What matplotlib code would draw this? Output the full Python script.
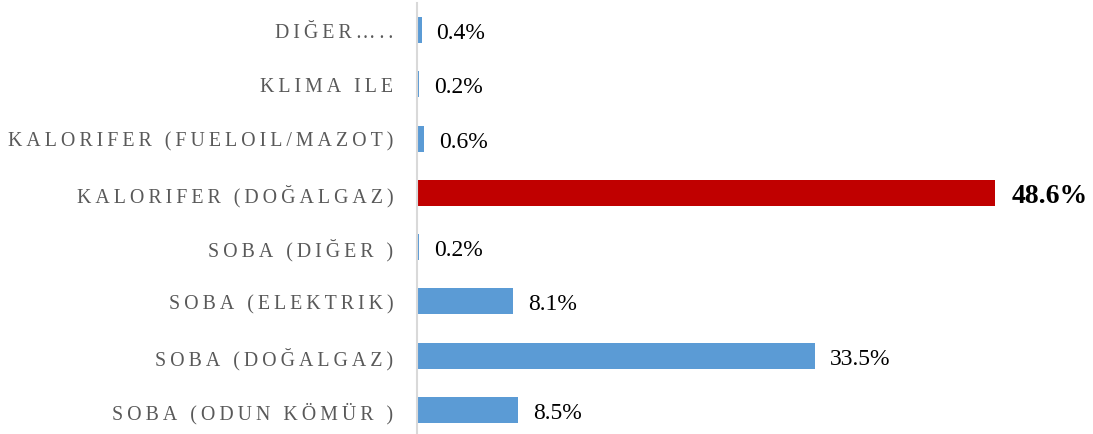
import matplotlib
matplotlib.use('Agg')
import matplotlib.pyplot as plt

# data, bottom to top
categories = ['SOBA (ODUN KÖMÜR )', 'SOBA (DOĞALGAZ)', 'SOBA (ELEKTRIK)', 'SOBA (DIĞER )',
              'KALORIFER (DOĞALGAZ)', 'KALORIFER (FUELOIL/MAZOT)', 'KLIMA ILE', 'DIĞER…..']
values = [8.5, 33.5, 8.1, 0.2, 48.6, 0.6, 0.2, 0.4]
highlight = 'KALORIFER (DOĞALGAZ)'

blue = '#5B9BD5'
red = '#C00000'

plt.rcParams['font.family'] = ['Liberation Serif', 'DejaVu Serif']

def spaced(s):
    # fake the wide letter spacing of the original labels with thin spaces
    return '\u2009'.join(s)

fig = plt.figure(figsize=(10.93, 4.35), dpi=100)
ax = fig.add_axes([417 / 1093, -3 / 435, 676 / 1093, 434 / 435])

y = list(range(len(categories)))
colors = [red if c == highlight else blue for c in categories]
ax.barh(y, values, height=0.48, color=colors)

for yi, v, c in zip(y, values, categories):
    if c == highlight:
        ax.annotate('{:.1f}%'.format(v), (v, yi), xytext=(12, 0), textcoords='offset points',
                    va='center_baseline', ha='left', fontsize=20, fontweight='bold', color='black')
    else:
        ax.annotate('{:.1f}%'.format(v), (v, yi), xytext=(10.5, 0), textcoords='offset points',
                    va='center_baseline', ha='left', fontsize=17, color='black')

ax.set_xlim(0, 676 / 11.89)
ax.set_ylim(-0.5, 7.5)
ax.set_yticks(y)
ax.set_yticklabels([spaced(c) for c in categories], fontsize=14.3, color='#595959')
ax.tick_params(axis='y', length=0, pad=17)
ax.set_xticks([])

for side in ['top', 'right', 'bottom']:
    ax.spines[side].set_visible(False)
ax.spines['left'].set_color('#D9D9D9')
ax.spines['left'].set_linewidth(1.5)

fig.savefig('out.png', dpi=100)
